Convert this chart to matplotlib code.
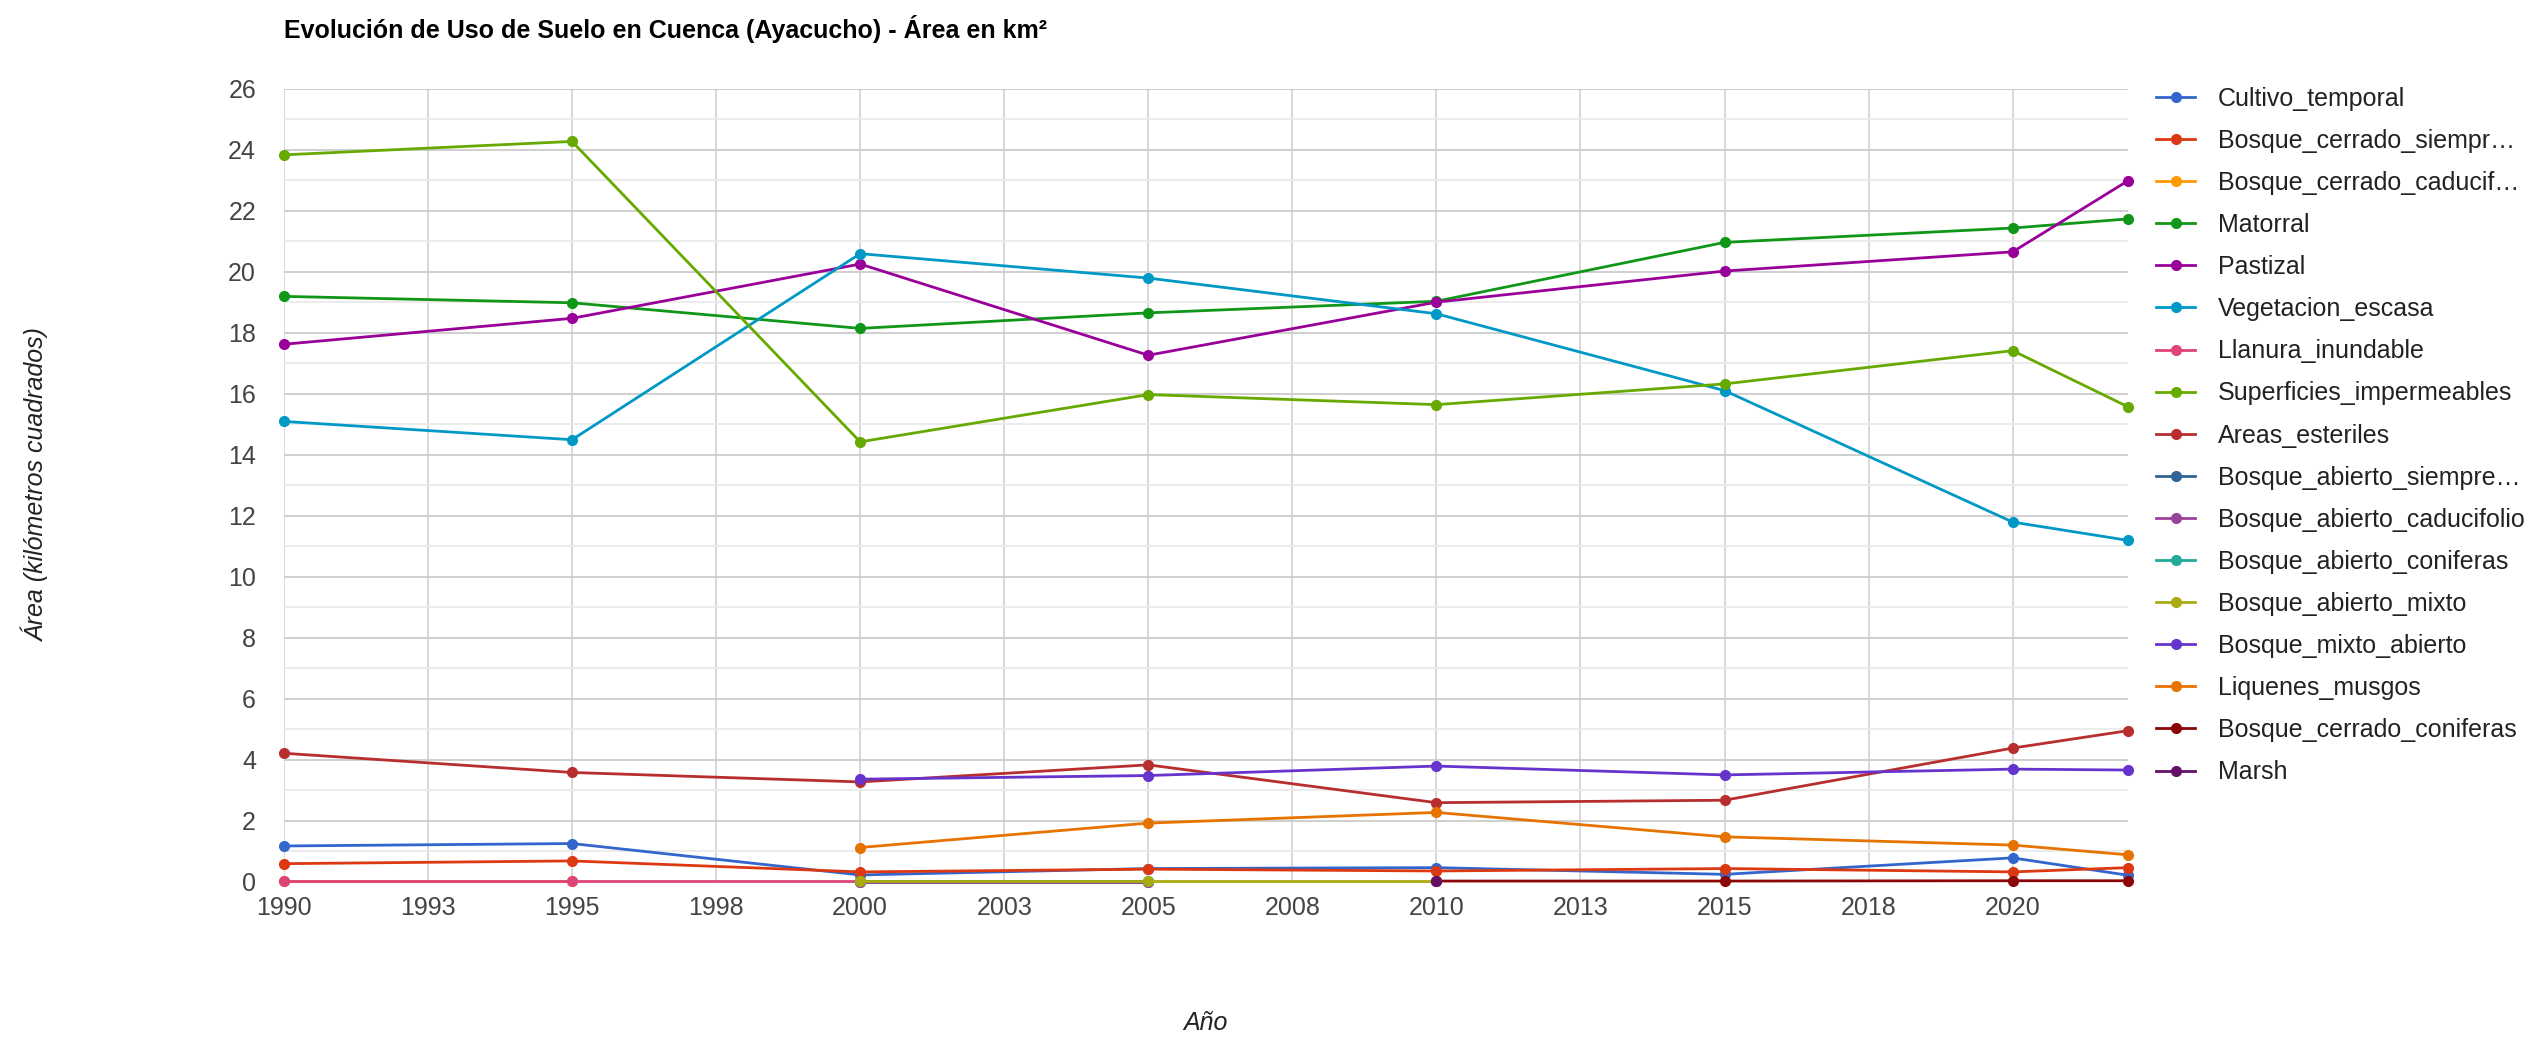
import numpy as np
import matplotlib
matplotlib.use("Agg")
import matplotlib.pyplot as plt
from matplotlib.ticker import MultipleLocator, FixedLocator, FuncFormatter

plt.rcParams['font.family'] = ['Liberation Sans', 'DejaVu Sans']

nan = np.nan
years = [1990, 1995, 2000, 2005, 2010, 2015, 2020, 2022]

# valores (km2)
cultivo_temporal = [1.18, 1.26, 0.23, 0.44, 0.47, 0.25, 0.79, 0.22]
bosque_cerrado_siempre = [0.60, 0.69, 0.33, 0.42, 0.36, 0.44, 0.33, 0.47]
bosque_cerrado_caducif = [0.02, 0.02, nan, nan, nan, nan, nan, nan]
matorral = [19.20, 18.99, 18.15, 18.66, 19.04, 20.97, 21.44, 21.74]
pastizal = [17.63, 18.48, 20.26, 17.27, 19.01, 20.03, 20.66, 22.99]
vegetacion_escasa = [15.10, 14.50, 20.60, 19.80, 18.63, 16.11, 11.80, 11.20]
llanura_inundable = [0.02, 0.02, 0.02, nan, nan, nan, nan, nan]
superficies_impermeables = [23.84, 24.28, 14.43, 15.98, 15.65, 16.33, 17.42, 15.58]
areas_esteriles = [4.22, 3.59, 3.28, 3.84, 2.60, 2.68, 4.39, 4.96]
bosque_abierto_siempre = [nan, nan, 0.01, 0.01, nan, nan, nan, nan]
bosque_abierto_caducifolio = [nan, nan, 0.01, 0.01, nan, nan, nan, nan]
bosque_abierto_coniferas = [nan, nan, 0.02, 0.02, nan, nan, nan, nan]
bosque_abierto_mixto = [nan, nan, 0.04, 0.04, 0.04, nan, nan, nan]
bosque_mixto_abierto = [nan, nan, 3.37, 3.49, 3.80, 3.51, 3.70, 3.67]
liquenes_musgos = [nan, nan, 1.13, 1.93, 2.28, 1.48, 1.21, 0.89]
bosque_cerrado_coniferas = [nan, nan, nan, nan, 0.03, 0.03, 0.04, 0.04]
marsh = [nan, nan, nan, nan, 0.02, nan, nan, nan]

labels = ["Cultivo_temporal", "Bosque_cerrado_siempr\u2026", "Bosque_cerrado_caducif\u2026",
          "Matorral", "Pastizal", "Vegetacion_escasa", "Llanura_inundable",
          "Superficies_impermeables", "Areas_esteriles", "Bosque_abierto_siempre\u2026",
          "Bosque_abierto_caducifolio", "Bosque_abierto_coniferas", "Bosque_abierto_mixto",
          "Bosque_mixto_abierto", "Liquenes_musgos", "Bosque_cerrado_coniferas", "Marsh"]
series = [cultivo_temporal, bosque_cerrado_siempre, bosque_cerrado_caducif, matorral,
          pastizal, vegetacion_escasa, llanura_inundable, superficies_impermeables,
          areas_esteriles, bosque_abierto_siempre, bosque_abierto_caducifolio,
          bosque_abierto_coniferas, bosque_abierto_mixto, bosque_mixto_abierto,
          liquenes_musgos, bosque_cerrado_coniferas, marsh]
colors = ["#3366cc", "#dc3912", "#ff9900", "#109618", "#990099", "#0099c6", "#dd4477",
          "#66aa00", "#b82e2e", "#316395", "#994499", "#22aa99", "#aaaa11", "#6633cc",
          "#e67300", "#8b0707", "#651067"]

fig = plt.figure(figsize=(25.46, 10.37), dpi=100)
ax = fig.add_axes([0.1115, 0.1495, 0.7243, 0.7647])

for vals, lab, c in zip(series, labels, colors):
    ax.plot(years, vals, color=c, lw=2, marker='o', markersize=7, label=lab,
            clip_on=False)

ax.set_xlim(1990, 2022)
ax.set_ylim(0, 26)
xt = np.arange(1990, 2021, 2.5)
ax.xaxis.set_major_locator(FixedLocator(xt))
ax.xaxis.set_major_formatter(FuncFormatter(lambda v, p: str(int(np.floor(v + 0.5)))))
ax.yaxis.set_major_locator(MultipleLocator(2))
ax.yaxis.set_minor_locator(MultipleLocator(1))
ax.grid(True, which='major', axis='y', color='#cccccc', lw=1.3)
ax.grid(True, which='major', axis='x', color='#d6d6d6', lw=1.3)
ax.grid(True, which='minor', axis='y', color='#ebebeb', lw=1.3)
ax.set_axisbelow(True)
for s in ax.spines.values():
    s.set_visible(False)
ax.tick_params(axis='both', which='both', length=0, labelsize=18, labelcolor='#444444')
ax.tick_params(axis='y', pad=20)
ax.tick_params(axis='x', pad=10)

ax.set_xlabel("Año", fontsize=18, style='italic', color='#222222')
ax.xaxis.set_label_coords(0.5, -0.163)
ax.set_ylabel("Área (kilómetros cuadrados)", fontsize=18, style='italic', color='#222222')
ax.yaxis.set_label_coords(-0.1273, 0.5)

fig.text(0.1115, 0.972, "Evolución de Uso de Suelo en Cuenca (Ayacucho) - Área en km²",
         fontsize=18, fontweight='bold', color='#000000', va='center', ha='left')

ax.legend(loc='upper left', bbox_to_anchor=(0.843, 0.926), bbox_transform=fig.transFigure,
          frameon=False, fontsize=18, handlelength=1.55, handletextpad=0.9,
          labelspacing=0.724, labelcolor='#222222', borderaxespad=0)

fig.savefig("out.png", dpi=100)
